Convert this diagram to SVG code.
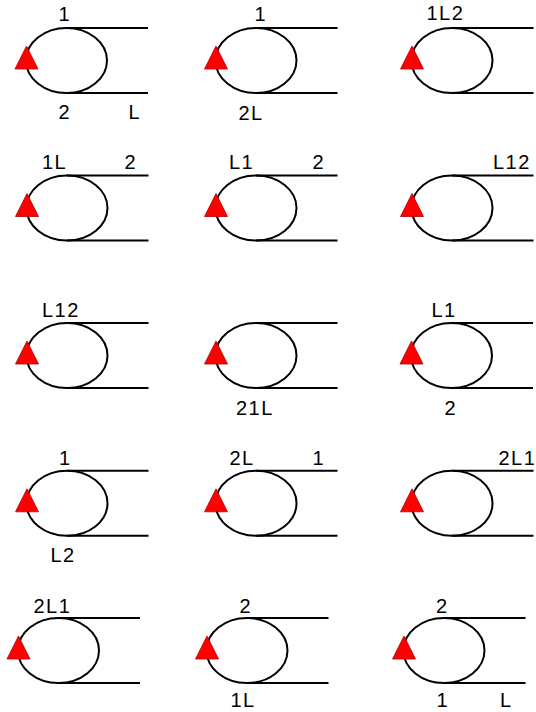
<svg xmlns="http://www.w3.org/2000/svg" xmlns:xlink="http://www.w3.org/1999/xlink" width="536" height="712" viewBox="0 0 536 712">
<style>
.ring{fill:none;stroke:#000;stroke-width:2}
.rail{fill:none;stroke:#000;stroke-width:2}
.tri{fill:#ff0000;stroke:#b00000;stroke-width:0.8;stroke-linejoin:miter}
text{font-family:"Liberation Sans",Arial,sans-serif;font-size:20px;fill:#000;letter-spacing:1.5px}
.m{text-anchor:middle;letter-spacing:0}
</style>
<defs>
<g id="cell">
<ellipse class="ring" cx="0" cy="0" rx="40.5" ry="32.5"/>
<path class="rail" d="M0,-32.5H81.5M0,32.5H81.5"/>
<polygon class="tri" points="-40,-14.5 -51.5,8.5 -28.5,8.5"/>
</g>
</defs>
<rect width="536" height="712" fill="#fff"/>
<g id="connectors"></g>

<g id="n1"><use xlink:href="#cell" href="#cell" x="66.5" y="60.5"/>
<text class="m" x="64" y="21">1</text><text class="m" x="64" y="119">2</text><text x="128.5" y="119">L</text></g>
<g id="n2"><use xlink:href="#cell" href="#cell" x="256" y="60.5"/>
<text class="m" x="260" y="21">1</text><text x="238.5" y="120">2L</text></g>
<g id="n3"><use xlink:href="#cell" href="#cell" x="452" y="60.5"/>
<text x="426.5" y="20">1L2</text></g>

<g id="n4"><use xlink:href="#cell" href="#cell" x="67" y="208"/>
<text x="42" y="169">1L</text><text class="m" x="130" y="169">2</text></g>
<g id="n5"><use xlink:href="#cell" href="#cell" x="256" y="208"/>
<text x="229" y="169">L1</text><text class="m" x="318" y="169">2</text></g>
<g id="n6"><use xlink:href="#cell" href="#cell" x="452" y="208"/>
<text x="493" y="169">L12</text></g>

<g id="n7"><use xlink:href="#cell" href="#cell" x="67" y="355.5"/>
<text x="42" y="317">L12</text></g>
<g id="n8"><use xlink:href="#cell" href="#cell" x="256" y="355.5"/>
<text x="236" y="415">21L</text></g>
<g id="n9"><use xlink:href="#cell" href="#cell" x="451.5" y="355.5"/>
<text x="431.5" y="317">L1</text><text class="m" x="450" y="415">2</text></g>

<g id="n10"><use xlink:href="#cell" href="#cell" x="67" y="503.3"/>
<text class="m" x="64.5" y="465">1</text><text x="50.5" y="562">L2</text></g>
<g id="n11"><use xlink:href="#cell" href="#cell" x="256" y="503.3"/>
<text x="229.5" y="465">2L</text><text class="m" x="318" y="465">1</text></g>
<g id="n12"><use xlink:href="#cell" href="#cell" x="452" y="503.3"/>
<text x="498.5" y="465">2L1</text></g>

<g id="n13"><use xlink:href="#cell" href="#cell" x="58.5" y="650.5"/>
<text x="33.5" y="613">2L1</text></g>
<g id="n14"><use xlink:href="#cell" href="#cell" x="247" y="650.5"/>
<text class="m" x="245" y="613">2</text><text x="230.5" y="707">1L</text></g>
<g id="n15"><use xlink:href="#cell" href="#cell" x="444" y="650.5"/>
<text class="m" x="441.5" y="613">2</text><text class="m" x="442" y="707">1</text><text x="500" y="707">L</text></g>
</svg>
